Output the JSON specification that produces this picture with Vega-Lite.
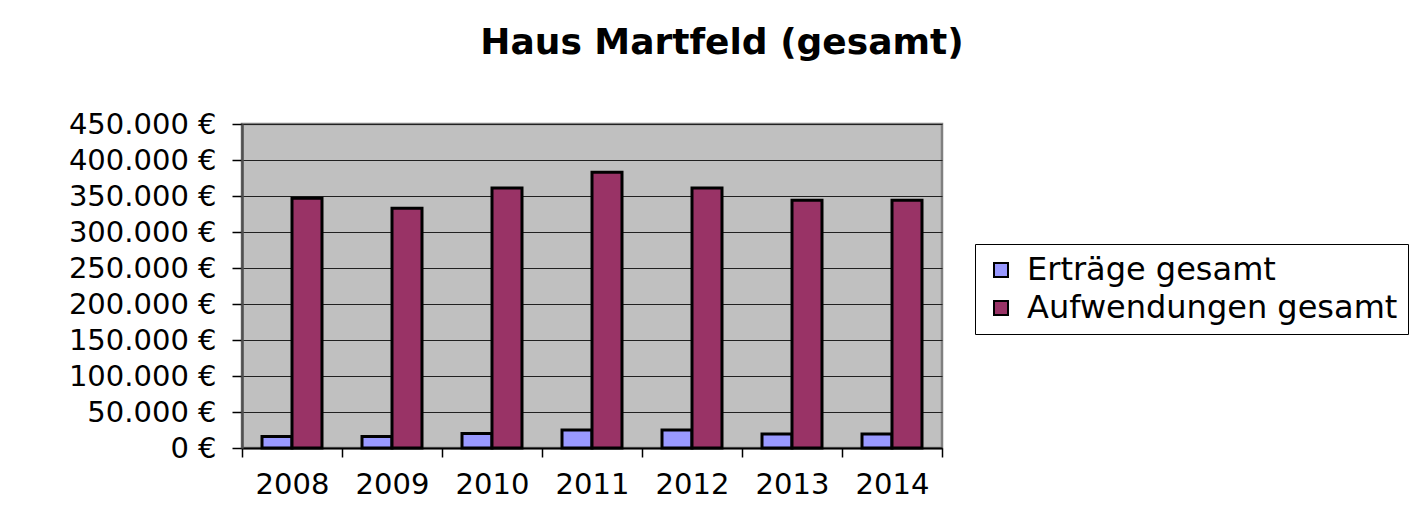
{
  "$schema": "https://vega.github.io/schema/vega-lite/v6.json",
  "width": 700,
  "height": 324,
  "autosize": {"type": "none"},
  "padding": {"left": 242, "top": 124, "right": 470, "bottom": 79},
  "background": "white",
  "title": {
    "text": "Haus Martfeld (gesamt)",
    "font": "DejaVu Sans",
    "fontSize": 36,
    "fontWeight": "bold",
    "color": "black",
    "anchor": "middle",
    "dx": 130,
    "offset": 48
  },
  "data": {
    "values": [
      {"year": "2008", "series": "Erträge gesamt", "value": 16000},
      {"year": "2008", "series": "Aufwendungen gesamt", "value": 347000},
      {"year": "2009", "series": "Erträge gesamt", "value": 16000},
      {"year": "2009", "series": "Aufwendungen gesamt", "value": 333000},
      {"year": "2010", "series": "Erträge gesamt", "value": 20000},
      {"year": "2010", "series": "Aufwendungen gesamt", "value": 361000},
      {"year": "2011", "series": "Erträge gesamt", "value": 25000},
      {"year": "2011", "series": "Aufwendungen gesamt", "value": 383000},
      {"year": "2012", "series": "Erträge gesamt", "value": 25000},
      {"year": "2012", "series": "Aufwendungen gesamt", "value": 361000},
      {"year": "2013", "series": "Erträge gesamt", "value": 19500},
      {"year": "2013", "series": "Aufwendungen gesamt", "value": 344000},
      {"year": "2014", "series": "Erträge gesamt", "value": 19500},
      {"year": "2014", "series": "Aufwendungen gesamt", "value": 344000}
    ]
  },
  "mark": {"type": "bar", "stroke": "black", "strokeWidth": 3},
  "encoding": {
    "x": {
      "field": "year",
      "type": "nominal",
      "scale": {"paddingInner": 0, "paddingOuter": 0},
      "axis": {
        "title": null,
        "labelAngle": 0,
        "labelFont": "DejaVu Sans",
        "labelFontSize": 29,
        "labelColor": "black",
        "labelPadding": 13,
        "tickBand": "extent",
        "tickColor": "black",
        "tickSize": 9,
        "tickWidth": 1.5,
        "domainColor": "black",
        "domainWidth": 2,
        "grid": false
      }
    },
    "xOffset": {
      "field": "series",
      "type": "nominal",
      "sort": ["Erträge gesamt", "Aufwendungen gesamt"],
      "scale": {"paddingInner": 0, "paddingOuter": 0.6667}
    },
    "y": {
      "field": "value",
      "type": "quantitative",
      "scale": {"domain": [0, 450000], "nice": false},
      "axis": {
        "title": null,
        "values": [0, 50000, 100000, 150000, 200000, 250000, 300000, 350000, 400000, 450000],
        "labelExpr": "replace(format(datum.value, ',d'), /,/g, '.') + ' €'",
        "labelFont": "DejaVu Sans",
        "labelFontSize": 29,
        "labelColor": "black",
        "labelPadding": 16,
        "tickColor": "black",
        "tickSize": 10,
        "tickWidth": 1.5,
        "domainColor": "#505050",
        "domainWidth": 2.5,
        "grid": true,
        "gridColor": "#202020",
        "gridWidth": 1.2,
        "gridOpacity": 1
      }
    },
    "color": {
      "field": "series",
      "type": "nominal",
      "sort": ["Erträge gesamt", "Aufwendungen gesamt"],
      "scale": {"domain": ["Erträge gesamt", "Aufwendungen gesamt"], "range": ["#9999FF", "#993366"]},
      "legend": {
        "title": null,
        "orient": "none",
        "legendX": 733,
        "legendY": 120,
        "direction": "vertical",
        "symbolType": "square",
        "symbolSize": 196,
        "symbolStrokeColor": "black",
        "symbolStrokeWidth": 2,
        "symbolOpacity": 1,
        "labelFont": "DejaVu Sans",
        "labelFontSize": 32,
        "labelColor": "black",
        "labelOffset": 10,
        "labelLimit": 600,
        "rowPadding": 6,
        "padding": 10,
        "strokeColor": "black",
        "fillColor": "white"
      }
    }
  },
  "config": {
    "view": {"fill": "#C0C0C0", "stroke": "#808080", "strokeWidth": 2.5}
  }
}
